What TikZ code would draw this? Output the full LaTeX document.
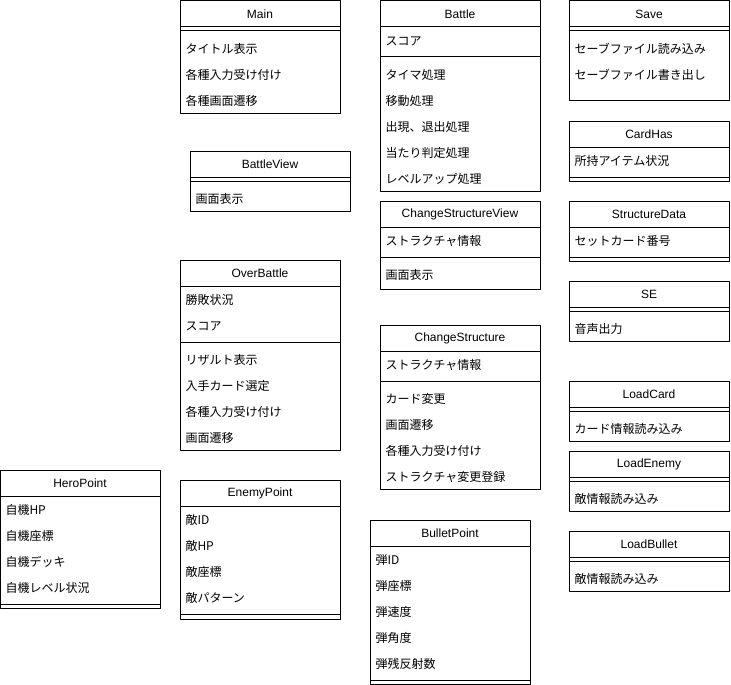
\documentclass[tikz,border=0pt]{standalone}
\usepackage{fontspec}
\setmainfont{Noto Sans CJK JP}
\newfontfamily\titlefont{Liberation Sans}
\tikzset{
  ttl/.style={inner sep=0pt, anchor=center, yshift=-0.5pt, font=\fontsize{12}{14}\selectfont\titlefont},
  row/.style={inner sep=0pt, anchor=west, yshift=-1pt},
}
\begin{document}
\begin{tikzpicture}[x=1pt,y=-1pt, font=\fontsize{12}{14}\selectfont, line join=round, line width=1pt]
\useasboundingbox (0,0) rectangle (731,685);
% Main
\draw (180,1) rectangle (340,113);
\draw (180,27) -- (340,27) (180,31) -- (340,31);
\node[ttl] (main) at (260,14) {Main};
\node[row] (main-m1) at (185,48) {タイトル表示};
\node[row] (main-m2) at (185,74) {各種入力受け付け};
\node[row] (main-m3) at (185,100) {各種画面遷移};
% Battle
\draw (380,1) rectangle (540,191);
\draw (380,27) -- (540,27) (380,57) -- (540,57);
\node[ttl] (battle) at (460,14) {Battle};
\node[row] (battle-a1) at (385,40) {スコア};
\node[row] (battle-m1) at (385,74) {タイマ処理};
\node[row] (battle-m2) at (385,100) {移動処理};
\node[row] (battle-m3) at (385,126) {出現、退出処理};
\node[row] (battle-m4) at (385,152) {当たり判定処理};
\node[row] (battle-m5) at (385,178) {レベルアップ処理};
% Save
\draw (569,1) rectangle (729,100);
\draw (569,27) -- (729,27) (569,31) -- (729,31);
\node[ttl] (save) at (649,14) {Save};
\node[row] (save-m1) at (574,48) {セーブファイル読み込み};
\node[row] (save-m2) at (574,74) {セーブファイル書き出し};
% CardHas
\draw (569,121) rectangle (729,181);
\draw (569,147) -- (729,147) (569,177) -- (729,177);
\node[ttl] (cardhas) at (649,134) {CardHas};
\node[row] (cardhas-a1) at (574,160) {所持アイテム状況};
% StructureData
\draw (569,201) rectangle (729,261);
\draw (569,227) -- (729,227) (569,257) -- (729,257);
\node[ttl] (structdata) at (649,214) {StructureData};
\node[row] (structdata-a1) at (574,240) {セットカード番号};
% SE
\draw (569,281) rectangle (729,341);
\draw (569,307) -- (729,307) (569,311) -- (729,311);
\node[ttl] (se) at (649,294) {SE};
\node[row] (se-m1) at (574,328) {音声出力};
% LoadCard
\draw (569,381) rectangle (729,441);
\draw (569,407) -- (729,407) (569,411) -- (729,411);
\node[ttl] (loadcard) at (649,394) {LoadCard};
\node[row] (loadcard-m1) at (574,428) {カード情報読み込み};
% LoadEnemy
\draw (569,451) rectangle (729,511);
\draw (569,477) -- (729,477) (569,481) -- (729,481);
\node[ttl] (loadenemy) at (649,464) {LoadEnemy};
\node[row] (loadenemy-m1) at (574,498) {敵情報読み込み};
% LoadBullet
\draw (569,531) rectangle (729,591);
\draw (569,557) -- (729,557) (569,561) -- (729,561);
\node[ttl] (loadbullet) at (649,544) {LoadBullet};
\node[row] (loadbullet-m1) at (574,578) {敵情報読み込み};
% BattleView
\draw (190,151) rectangle (350,211);
\draw (190,177) -- (350,177) (190,181) -- (350,181);
\node[ttl] (battleview) at (270,164) {BattleView};
\node[row] (battleview-m1) at (195,198) {画面表示};
% ChangeStructureView
\draw (380,201) rectangle (540,289);
\draw (380,227) -- (540,227) (380,257) -- (540,257);
\node[ttl] (csview) at (460,214) {ChangeStructureView};
\node[row] (csview-a1) at (385,240) {ストラクチャ情報};
\node[row] (csview-m1) at (385,274) {画面表示};
% OverBattle
\draw (180,260) rectangle (340,450);
\draw (180,286) -- (340,286) (180,342) -- (340,342);
\node[ttl] (overbattle) at (260,273) {OverBattle};
\node[row] (overbattle-a1) at (185,299) {勝敗状況};
\node[row] (overbattle-a2) at (185,325) {スコア};
\node[row] (overbattle-m1) at (185,359) {リザルト表示};
\node[row] (overbattle-m2) at (185,385) {入手カード選定};
\node[row] (overbattle-m3) at (185,411) {各種入力受け付け};
\node[row] (overbattle-m4) at (185,437) {画面遷移};
% ChangeStructure
\draw (380,325) rectangle (540,489);
\draw (380,351) -- (540,351) (380,381) -- (540,381);
\node[ttl] (cstruct) at (460,338) {ChangeStructure};
\node[row] (cstruct-a1) at (385,364) {ストラクチャ情報};
\node[row] (cstruct-m1) at (385,398) {カード変更};
\node[row] (cstruct-m2) at (385,424) {画面遷移};
\node[row] (cstruct-m3) at (385,450) {各種入力受け付け};
\node[row] (cstruct-m4) at (385,476) {ストラクチャ変更登録};
% HeroPoint
\draw (0.5,470) rectangle (160,608);
\draw (0.5,496) -- (160,496) (0.5,604) -- (160,604);
\node[ttl] (hero) at (80,483) {HeroPoint};
\node[row] (hero-a1) at (5,509) {自機HP};
\node[row] (hero-a2) at (5,535) {自機座標};
\node[row] (hero-a3) at (5,561) {自機デッキ};
\node[row] (hero-a4) at (5,587) {自機レベル状況};
% EnemyPoint
\draw (180,480) rectangle (340,619);
\draw (180,506) -- (340,506) (180,614) -- (340,614);
\node[ttl] (enemy) at (260,493) {EnemyPoint};
\node[row] (enemy-a1) at (185,519) {敵ID};
\node[row] (enemy-a2) at (185,545) {敵HP};
\node[row] (enemy-a3) at (185,571) {敵座標};
\node[row] (enemy-a4) at (185,597) {敵パターン};
% BulletPoint
\draw (370,520) rectangle (530,684);
\draw (370,546) -- (530,546) (370,680) -- (530,680);
\node[ttl] (bullet) at (450,533) {BulletPoint};
\node[row] (bullet-a1) at (375,559) {弾ID};
\node[row] (bullet-a2) at (375,585) {弾座標};
\node[row] (bullet-a3) at (375,611) {弾速度};
\node[row] (bullet-a4) at (375,637) {弾角度};
\node[row] (bullet-a5) at (375,663) {弾残反射数};
\end{tikzpicture}
\end{document}
